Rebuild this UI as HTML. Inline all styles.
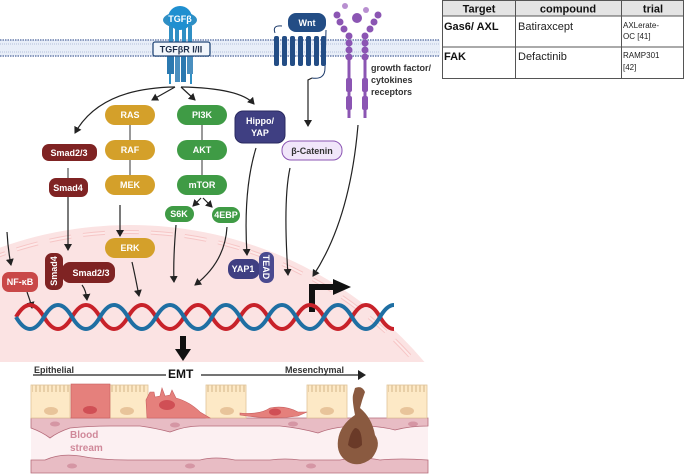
<!DOCTYPE html>
<html><head><meta charset="utf-8"><style>
html,body{margin:0;padding:0;background:#fff;width:685px;height:475px;overflow:hidden}
svg{display:block}
text{font-family:"Liberation Sans",sans-serif}
.w{fill:#fff;font-weight:bold;font-size:9px;text-anchor:middle}
.ar{fill:none;stroke:#222;stroke-width:1.2}
</style></head><body>
<svg width="685" height="475" viewBox="0 0 685 475" xmlns="http://www.w3.org/2000/svg">
<defs>
<marker id="a" markerWidth="8" markerHeight="8" refX="6" refY="4" orient="auto" markerUnits="userSpaceOnUse"><path d="M0,0 L7,4 L0,8 z" fill="#222"/></marker>
<clipPath id="nc"><rect x="0" y="0" width="440" height="362"/></clipPath>
<pattern id="mv" x="0" y="0" width="4" height="8" patternUnits="userSpaceOnUse"><path d="M0.5,8 L0.5,1.5 Q2,0 3.5,1.5 L3.5,8" fill="none" stroke="#e0c49a" stroke-width="0.7"/></pattern>
</defs>
<!-- nucleus -->
<g clip-path="url(#nc)">
<circle cx="130" cy="610" r="385" fill="#fbe3e3"/>
<circle cx="130" cy="610" r="378" fill="none" stroke="#f3b9b9" stroke-width="4" stroke-dasharray="22 12" opacity="0.7"/>
<circle cx="130" cy="610" r="378" fill="none" stroke="#fde9e9" stroke-width="2" stroke-dasharray="22 12"/>
</g>
<!-- membrane -->
<rect x="0" y="40" width="440" height="16" fill="#e8eef8"/>
<line x1="0" y1="40" x2="440" y2="40" stroke="#8c9cc0" stroke-width="2" stroke-dasharray="1.5 1"/>
<line x1="0" y1="44" x2="440" y2="44" stroke="#b4c0da" stroke-width="1" stroke-dasharray="1 1"/>
<line x1="0" y1="52" x2="440" y2="52" stroke="#b4c0da" stroke-width="1" stroke-dasharray="1 1"/>
<line x1="0" y1="56" x2="440" y2="56" stroke="#8c9cc0" stroke-width="2" stroke-dasharray="1.5 1"/>
<!-- TGFb receptor -->
<g fill="#2f8fc4">
<rect x="169" y="26" width="4" height="18"/><rect x="175" y="26" width="4" height="18"/><rect x="182" y="26" width="4" height="18"/><rect x="188" y="26" width="4" height="18"/>
<rect x="167" y="56" width="7" height="18" fill="#2b79b0"/><rect x="175" y="56" width="5" height="26" fill="#4a8fbf"/><rect x="181" y="56" width="5" height="26" fill="#2b79b0"/><rect x="187" y="56" width="6" height="18" fill="#4a8fbf"/>
<rect x="169" y="74" width="2" height="10"/><rect x="190" y="74" width="2" height="10"/>
<ellipse cx="180" cy="20" rx="17" ry="8"/>
<circle cx="180" cy="18" r="12" fill="#1f8fd0"/>
</g>
<text x="180" y="22" class="w" font-size="9">TGFβ</text>
<rect x="153" y="42" width="57" height="14" rx="2" fill="#f2f6fb" stroke="#254a7a" stroke-width="1.3"/>
<text x="181" y="52.5" font-size="9" font-weight="bold" text-anchor="middle" fill="#1d2e4a">TGFβR I/II</text>
<!-- Wnt -->
<path d="M275,33 Q272,25 282,26 M326,30 L325,68 Q325,80 312,78" fill="none" stroke="#1c3a6a" stroke-width="1"/>
<g fill="#234d85">
<rect x="274" y="36" width="5" height="30" rx="2"/><rect x="282" y="36" width="5" height="30" rx="2"/><rect x="290" y="36" width="5" height="30" rx="2"/><rect x="298" y="36" width="5" height="30" rx="2"/><rect x="306" y="36" width="5" height="30" rx="2"/><rect x="314" y="36" width="5" height="30" rx="2"/><rect x="321" y="36" width="5" height="30" rx="2"/>
</g>
<rect x="288" y="13" width="38" height="19" rx="8" fill="#234d85"/>
<text x="307" y="26" class="w">Wnt</text>
<path d="M312,78 L308,80 L308,126" class="ar" marker-end="url(#a)"/>
<!-- growth factor receptor -->
<g fill="#8b55b3">
<circle cx="345" cy="6" r="3" fill="#b88fd0"/><circle cx="357" cy="18" r="5" fill="#8b55b3"/><circle cx="366" cy="10" r="3" fill="#b88fd0"/>
<circle cx="337" cy="15" r="3.5"/><circle cx="340" cy="22" r="3.5"/><circle cx="344" cy="29" r="3.5"/><circle cx="349" cy="36" r="3.5"/><circle cx="349" cy="43" r="3.5"/><circle cx="349" cy="50" r="3.5"/><circle cx="349" cy="57" r="3.5"/>
<circle cx="378" cy="15" r="3.5"/><circle cx="374" cy="22" r="3.5"/><circle cx="370" cy="29" r="3.5"/><circle cx="365" cy="36" r="3.5"/><circle cx="365" cy="43" r="3.5"/><circle cx="365" cy="50" r="3.5"/><circle cx="365" cy="57" r="3.5"/>
<rect x="347.5" y="58" width="3" height="60"/><rect x="363.5" y="58" width="3" height="60"/>
<rect x="346" y="78" width="6" height="14" rx="2"/><rect x="346" y="96" width="6" height="14" rx="2"/>
<rect x="362" y="78" width="6" height="14" rx="2"/><rect x="362" y="96" width="6" height="14" rx="2"/>
</g>
<text x="371" y="71" font-size="9" font-weight="bold" fill="#333">growth factor/</text>
<text x="371" y="83" font-size="9" font-weight="bold" fill="#333">cytokines</text>
<text x="371" y="95" font-size="9" font-weight="bold" fill="#333">receptors</text>
<!-- branching arrows -->
<path d="M175,87 Q100,88 75,133" class="ar" marker-end="url(#a)"/>
<path d="M175,87 L152,100" class="ar" marker-end="url(#a)"/>
<path d="M181,87 L195,100" class="ar" marker-end="url(#a)"/>
<path d="M181,87 Q240,88 254,104" class="ar" marker-end="url(#a)"/>
<!-- RAS column -->
<g fill="#d4a02a">
<rect x="105" y="105" width="50" height="20" rx="10"/><rect x="105" y="140" width="50" height="20" rx="10"/><rect x="105" y="175" width="50" height="20" rx="10"/><rect x="105" y="238" width="50" height="20" rx="10"/>
</g>
<line x1="130" y1="125" x2="130" y2="140" stroke="#333"/><line x1="130" y1="160" x2="130" y2="175" stroke="#333"/>
<text x="130" y="118" class="w">RAS</text><text x="130" y="153" class="w">RAF</text><text x="130" y="188" class="w">MEK</text><text x="130" y="251" class="w">ERK</text>
<path d="M120,205 L120,236" class="ar" marker-end="url(#a)"/>
<!-- PI3K column -->
<g fill="#3f9b45">
<rect x="177" y="105" width="50" height="20" rx="10"/><rect x="177" y="140" width="50" height="20" rx="10"/><rect x="177" y="175" width="50" height="20" rx="10"/>
<rect x="165" y="206" width="29" height="16" rx="8"/><rect x="212" y="207" width="28" height="16" rx="8"/>
</g>
<line x1="202" y1="125" x2="202" y2="140" stroke="#333"/><line x1="202" y1="160" x2="202" y2="175" stroke="#333"/>
<text x="202" y="118" class="w">PI3K</text><text x="202" y="153" class="w">AKT</text><text x="202" y="188" class="w">mTOR</text>
<text x="179" y="217" class="w" font-size="8">S6K</text><text x="226" y="218" class="w" font-size="8">4EBP</text>
<path d="M201,198 L193,206" class="ar" marker-end="url(#a)"/><path d="M203,198 L212,207" class="ar" marker-end="url(#a)"/>
<!-- Smad -->
<rect x="42" y="144" width="55" height="17" rx="7" fill="#7f2323"/><text x="69" y="156" class="w">Smad2/3</text>
<rect x="49" y="178" width="39" height="19" rx="7" fill="#7f2323"/><text x="68" y="191" class="w">Smad4</text>
<line x1="68" y1="168" x2="68" y2="178" stroke="#333"/>
<path d="M68,197 L68,250" class="ar" marker-end="url(#a)"/>
<!-- Hippo -->
<rect x="235" y="111" width="50" height="32" rx="8" fill="#3f3f82" stroke="#2a2a60"/>
<text x="260" y="124" class="w">Hippo/</text><text x="260" y="136" class="w">YAP</text>
<!-- beta catenin -->
<rect x="282" y="141" width="60" height="19" rx="9" fill="#f1e6fa" stroke="#8b55b3"/>
<text x="312" y="154" font-size="9" font-weight="bold" text-anchor="middle" fill="#333">β-Catenin</text>
<!-- downward arrows into nucleus -->
<path d="M7,232 Q8,250 11,265" class="ar" marker-end="url(#a)"/>
<path d="M176,225 Q173,260 174,282" class="ar" marker-end="url(#a)"/>
<path d="M227,227 Q225,262 195,285" class="ar" marker-end="url(#a)"/>
<path d="M256,148 Q243,190 247,255" class="ar" marker-end="url(#a)"/>
<path d="M290,168 Q283,200 288,275" class="ar" marker-end="url(#a)"/>
<path d="M358,125 Q350,220 313,276" class="ar" marker-end="url(#a)"/>
<path d="M132,262 Q135,275 139,296" class="ar" marker-end="url(#a)"/>
<path d="M27,292 Q30,300 32,308" class="ar" marker-end="url(#a)"/>
<path d="M82,285 Q86,290 87,300" class="ar" marker-end="url(#a)"/>
<!-- NF-kB, smad complex -->
<rect x="2" y="272" width="36" height="20" rx="7" fill="#c94848"/><text x="20" y="285" class="w">NF-κB</text>
<rect x="62" y="262" width="53" height="21" rx="8" fill="#7f2323"/><text x="91" y="276" class="w">Smad2/3</text>
<rect x="45" y="253" width="18" height="37" rx="7" fill="#7f2323"/>
<text x="57" y="271" class="w" transform="rotate(-90 57 271)">Smad4</text>
<!-- YAP1 TEAD -->
<rect x="228" y="259" width="32" height="20" rx="9" fill="#3f3f82"/><text x="243" y="272" class="w">YAP1</text>
<rect x="259" y="252" width="15" height="31" rx="7" fill="#4a4a90"/>
<text x="263" y="267" class="w" transform="rotate(90 263 267)">TEAD</text>
<!-- bent arrow -->
<path d="M312,312 L312,287 L336,287" fill="none" stroke="#111" stroke-width="6"/>
<path d="M333,279 L351,287 L333,295 z" fill="#111"/>
<!-- DNA -->
<g fill="none" stroke-width="4">
<path d="M16,317 Q23,305 30,305 T44,317 T58,329 T72,317 T86,305 T100,317 T114,329 T128,317 T142,305 T156,317 T170,329 T184,317 T198,305 T212,317 T226,329 T240,317 T254,305 T268,317 T282,329 T296,317 T310,305 T324,317 T338,329 T352,317 T366,305 T380,317 T394,329" stroke="#c8222a"/>
<path d="M16,317 Q23,329 30,329 T44,317 T58,305 T72,317 T86,329 T100,317 T114,305 T128,317 T142,329 T156,317 T170,305 T184,317 T198,329 T212,317 T226,305 T240,317 T254,329 T268,317 T282,305 T296,317 T310,329 T324,317 T338,305 T352,317 T366,329 T380,317 T394,305" stroke="#1f6fa3"/>
</g>
<!-- big arrow -->
<rect x="180" y="336" width="6" height="14" fill="#111"/><path d="M175,349 L191,349 L183,361 z" fill="#111"/>
<!-- EMT line -->
<line x1="33" y1="375" x2="166" y2="375" stroke="#222" stroke-width="1.3"/>
<line x1="201" y1="375" x2="362" y2="375" stroke="#222" stroke-width="1.3"/>
<path d="M358,370 L366,375 L358,380 z" fill="#222"/>
<text x="34" y="373" font-size="9" font-weight="bold" fill="#333">Epithelial</text>
<text x="168" y="378" font-size="12" font-weight="bold" fill="#111">EMT</text>
<text x="285" y="373" font-size="9" font-weight="bold" fill="#333">Mesenchymal</text>
<!-- vessel -->
<rect x="31" y="418" width="397" height="55" fill="#fcf0f2"/>
<path d="M31,418 L428,418 L428,426 Q410,426 395,430 Q380,426 360,426 Q335,426 318,433 Q300,428 280,426 Q250,426 235,426 Q215,426 200,426 Q185,426 170,432 Q155,428 140,426 L110,426 Q90,426 70,428 Q58,432 50,438 Q42,432 31,428 z" fill="#e8bcc4" stroke="#b56b7a" stroke-width="0.8"/>
<path d="M31,473 L428,473 L428,460 Q400,458 380,460 Q360,456 340,460 L300,460 Q285,458 270,460 Q250,460 235,460 Q215,456 200,460 Q180,460 160,460 Q140,460 130,460 Q100,460 80,456 Q60,453 45,460 L31,460 z" fill="#e8bcc4" stroke="#b56b7a" stroke-width="0.8"/>
<g fill="#d596a4"><ellipse cx="55" cy="424" rx="5" ry="2.5"/><ellipse cx="175" cy="425" rx="5" ry="2.5"/><ellipse cx="293" cy="424" rx="5" ry="2.5"/><ellipse cx="413" cy="424" rx="5" ry="2.5"/><ellipse cx="72" cy="466" rx="5" ry="2.5"/><ellipse cx="190" cy="466" rx="5" ry="2.5"/><ellipse cx="311" cy="466" rx="5" ry="2.5"/></g>
<text x="70" y="438" font-size="10" font-weight="bold" fill="#d0899a">Blood</text>
<text x="70" y="451" font-size="10" font-weight="bold" fill="#d0899a">stream</text>
<!-- cells -->
<g stroke="#e0c49a" stroke-width="0.8" fill="#fde9c6">
<rect x="31" y="385" width="39" height="33"/><rect x="110" y="385" width="38" height="33"/><rect x="206" y="385" width="40" height="33"/><rect x="307" y="385" width="40" height="33"/><rect x="387" y="385" width="40" height="33"/>
</g>
<g fill="url(#mv)"><rect x="32" y="385" width="37" height="7"/><rect x="111" y="385" width="36" height="7"/><rect x="207" y="385" width="38" height="7"/><rect x="308" y="385" width="38" height="7"/><rect x="388" y="385" width="38" height="7"/></g>
<g fill="#e8c49a"><ellipse cx="51" cy="411" rx="7" ry="4"/><ellipse cx="127" cy="411" rx="7" ry="4"/><ellipse cx="227" cy="411" rx="7" ry="4"/><ellipse cx="327" cy="411" rx="7" ry="4"/><ellipse cx="407" cy="411" rx="7" ry="4"/></g>
<rect x="71" y="384" width="39" height="34" fill="#e5807c" stroke="#c86060" stroke-width="0.6"/>
<ellipse cx="90" cy="410" rx="7" ry="4" fill="#d04f55"/>
<path d="M147,418 L146,400 L150,392 L154,392 L155,397 L160,396 L162,388 L165,396 L170,395 L172,390 L176,398 Q190,402 200,412 L210,418 z" fill="#e5807c" stroke="#c86060" stroke-width="0.6"/>
<ellipse cx="167" cy="405" rx="8" ry="5" fill="#d04f55"/>
<path d="M240,413 Q260,415 270,408 Q285,405 298,412 L307,412 L298,416 Q270,420 240,415 z" fill="#e5807c" stroke="#c86060" stroke-width="0.6"/>
<ellipse cx="275" cy="412" rx="6" ry="3.5" fill="#d04f55"/>
<path d="M355,388 Q362,385 365,392 Q362,400 360,408 Q372,418 375,435 Q382,445 372,458 Q360,468 348,462 Q336,455 338,440 Q340,425 355,415 Q352,400 353,395 z" fill="#8a5a40"/>
<path d="M355,428 Q362,428 362,445 Q355,452 348,445 Q350,432 355,428z" fill="#6a3a28"/>
<!-- table -->
<rect x="442.5" y="0.5" width="241" height="78" fill="#fff" stroke="#555"/>
<rect x="443" y="1" width="240" height="15" fill="#e4e4e4"/>
<line x1="442" y1="16" x2="684" y2="16" stroke="#555"/>
<line x1="442" y1="47" x2="684" y2="47" stroke="#555"/>
<line x1="515.5" y1="0" x2="515.5" y2="79" stroke="#555"/>
<line x1="621.5" y1="0" x2="621.5" y2="79" stroke="#555"/>
<text x="479" y="12.5" font-size="11" font-weight="bold" text-anchor="middle" fill="#111">Target</text>
<text x="568" y="12.5" font-size="11" font-weight="bold" text-anchor="middle" fill="#111">compound</text>
<text x="653" y="12.5" font-size="11" font-weight="bold" text-anchor="middle" fill="#111">trial</text>
<text x="444" y="30" font-size="11" font-weight="bold" fill="#111">Gas6/ AXL</text>
<text x="518" y="30" font-size="11" fill="#222">Batiraxcept</text>
<text x="623" y="28" font-size="8" fill="#222">AXLerate-</text>
<text x="623" y="39" font-size="8" fill="#222">OC [41]</text>
<text x="444" y="60" font-size="11" font-weight="bold" fill="#111">FAK</text>
<text x="518" y="60" font-size="11" fill="#222">Defactinib</text>
<text x="623" y="58" font-size="8" fill="#222">RAMP301</text>
<text x="623" y="70" font-size="8" fill="#222">[42]</text>
</svg>
</body></html>
